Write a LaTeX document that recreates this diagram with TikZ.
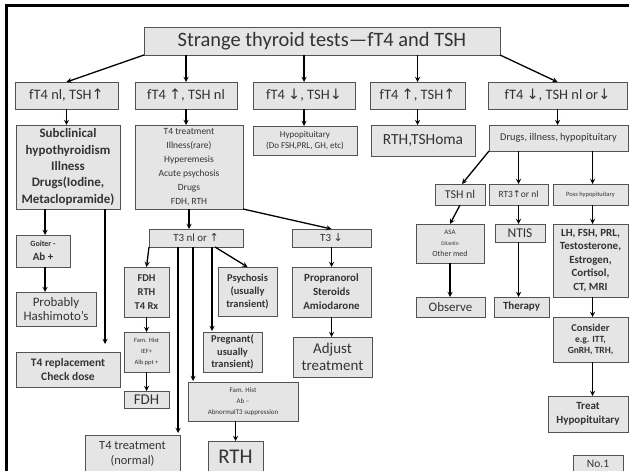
\documentclass[tikz,border=0pt]{standalone}
\usepackage{fontspec}
\setmainfont{Carlito}
\newfontfamily\symfont{DejaVu Sans}
\usetikzlibrary{arrows, shadows}
\newcommand{\arrUp}{{\symfont\char"2191}}
\newcommand{\arrDn}{{\symfont\char"2193}}
\newcommand{\fs}[2]{\fontsize{#1}{#2}\selectfont}
\tikzstyle{box} = [rectangle, draw=gray!65!black, fill=gray!20, text=black!80, align=center, inner sep=1bp, outer sep=0pt, drop shadow={shadow xshift=1.2bp, shadow yshift=-1.2bp, opacity=0.35}]
\tikzstyle{arrow} = [line width=1.3bp,->,>=stealth]

\begin{document}
\begin{tikzpicture}[x=1bp, y=-1bp]
    \useasboundingbox (0,0) rectangle (629,471);
    \clip (0,0) rectangle (629,471);
    \draw[line width=3bp] (6,475) -- (6,6) -- (632,6);

    % top row
    \node (title) [box, minimum width=356bp, minimum height=28bp, font=\fs{20.5}{24}] at (322,41) {Strange thyroid tests—fT4 and TSH};
    \node (nlhigh) [box, minimum width=103bp, minimum height=27bp, font=\fs{14.5}{17}] at (66.5,95.5) {fT4 nl, TSH\arrUp};
    \node (highnl) [box, minimum width=102bp, minimum height=27bp, font=\fs{14.5}{17}] at (186,95.5) {fT4 \arrUp, TSH nl};
    \node (lowlow) [box, minimum width=102bp, minimum height=27bp, font=\fs{14.5}{17}] at (304,95.5) {fT4 \arrDn, TSH\arrDn};
    \node (highhigh) [box, minimum width=95bp, minimum height=27bp, font=\fs{14.5}{17}] at (417.5,95.5) {fT4 \arrUp, TSH\arrUp};
    \node (lowany) [box, minimum width=139bp, minimum height=27bp, font=\fs{14.5}{17}] at (557.5,95.5) {fT4 \arrDn, TSH nl or\arrDn};

    % second row
    \node (subclin) [box, minimum width=104bp, minimum height=84bp, font=\fs{13}{16.5}\bfseries] at (68,167) {Subclinical\\hypothyroidism\\Illness\\Drugs(Iodine,\\Metaclopramide)};
    \node (causes) [box, minimum width=108bp, minimum height=84bp, font=\fs{9.5}{14}] at (189,167) {T4 treatment\\Illness(rare)\\Hyperemesis\\Acute psychosis\\Drugs\\FDH, RTH};
    \node (hypopit) [box, minimum width=104bp, minimum height=29bp, font=\fs{9}{11}] at (305,140.5) {Hypopituitary\\(Do FSH,PRL, GH, etc)};
    \node (rthoma) [box, minimum width=104bp, minimum height=31bp, font=\fs{15.5}{18}] at (423,140.5) {RTH,TSHoma};
    \node (ntisgrp) [box, minimum width=139bp, minimum height=26bp, font=\fs{10.4}{12}] at (558.5,138) {Drugs, illness, hypopituitary};

    % left branch
    \node (goiter) [box, minimum width=54bp, minimum height=32bp, font=\fs{11}{14}\bfseries] at (43,251) {{\fs{8}{11}Goiter -}\\Ab +};
    \node (hashi) [box, minimum width=80bp, minimum height=34bp, font=\fs{13}{14.5}] at (56,309) {Probably\\Hashimoto's};
    \node (replace) [box, minimum width=104bp, minimum height=35bp, font=\fs{11.5}{14}\bfseries] at (68,369.5) {T4 replacement\\Check dose};

    % T3 branch
    \node (tthreenl) [box, minimum width=94bp, minimum height=18bp, font=\fs{11}{13}] at (196,238) {T3 nl or \arrUp};
    \node (tthreedn) [box, minimum width=79bp, minimum height=18bp, font=\fs{11}{13}] at (331.5,238) {T3 \arrDn};
    \node (propra) [box, minimum width=79bp, minimum height=50bp, font=\fs{11}{14}\bfseries] at (331.5,292) {Propranorol\\Steroids\\Amiodarone};
    \node (adjust) [box, minimum width=79bp, minimum height=40bp, font=\fs{15}{17}] at (332.5,357) {Adjust\\treatment};
    \node (fdhrx) [box, minimum width=45bp, minimum height=50bp, font=\fs{10.5}{14}\bfseries] at (146.5,292) {FDH\\RTH\\T4 Rx};
    \node (famief) [box, minimum width=45bp, minimum height=40bp, font=\fs{6.5}{11}] at (146.5,352) {Fam. Hist\\IEF+\\Alb ppt +};
    \node (fdh) [box, minimum width=45bp, minimum height=17bp, font=\fs{15}{17}] at (146.5,399.5) {FDH};
    \node (psych) [box, minimum width=59bp, minimum height=49bp, font=\fs{10.5}{13}\bfseries] at (247.5,291.5) {Psychosis\\(usually\\transient)};
    \node (preg) [box, minimum width=59bp, minimum height=40bp, font=\fs{10.5}{12.5}\bfseries] at (232.5,352) {Pregnant(\\usually\\transient)};
    \node (famab) [box, minimum width=110bp, minimum height=39bp, font=\fs{7}{11}] at (243,401.5) {Fam. Hist\\Ab --\\AbnormalT3 suppression};
    \node (rth) [box, minimum width=55bp, minimum height=31bp, font=\fs{21}{23}] at (235.5,456.5) {RTH};
    \node (normal) [box, minimum width=95bp, minimum height=37bp, font=\fs{12.5}{15}] at (132.5,453.5) {T4 treatment\\(normal)};

    % right branch
    \node (tshnl) [box, minimum width=50bp, minimum height=21bp, font=\fs{12}{14}] at (460,194.5) {TSH nl};
    \node (rtthree) [box, minimum width=59bp, minimum height=21bp, font=\fs{9.5}{12}] at (518.5,194.5) {RT3\arrUp or nl};
    \node (posshypo) [box, minimum width=75bp, minimum height=21bp, font=\fs{6.5}{9}] at (590.5,194.5) {Poss hypopituitary};
    \node (asa) [box, minimum width=68bp, minimum height=39bp, font=\fs{7}{11}] at (450,243.5) {ASA\\{\fs{5.5}{10}Dilantin}\\{\fs{8}{11}Other med}};
    \node (ntis) [box, minimum width=50bp, minimum height=18bp, font=\fs{13.5}{15}] at (520,233) {NTIS};
    \node (hormones) [box, minimum width=75bp, minimum height=73bp, font=\fs{11}{13.5}\bfseries] at (590.5,260.5) {LH, FSH, PRL,\\Testosterone,\\Estrogen,\\Cortisol,\\CT, MRI};
    \node (observe) [box, minimum width=69bp, minimum height=20bp, font=\fs{13}{15}] at (450.5,307) {Observe};
    \node (therapy) [box, minimum width=55bp, minimum height=20bp, font=\fs{11}{13}\bfseries] at (521.5,307) {Therapy};
    \node (consider) [box, minimum width=75bp, minimum height=45bp, font=\fs{9.5}{11.5}\bfseries] at (590.5,339.5) {{\fs{10.5}{13}Consider}\\e.g. ITT,\\GnRH, TRH,};
    \node (treathypo) [box, minimum width=80bp, minimum height=36bp, font=\fs{11}{14}\bfseries] at (588,414) {Treat\\Hypopituitary};
    \node (pagenum) [box, minimum width=50bp, minimum height=17bp, font=\fs{11.5}{13}] at (598,463.5) {No.1};

    % connectors
    \draw[arrow] (title.south west) -- (nlhigh.north);
    \draw[arrow] (highnl.north |- title.south) -- (highnl.north);
    \draw[arrow] (lowlow.north |- title.south) -- (lowlow.north);
    \draw[arrow] (highhigh.north |- title.south) -- (highhigh.north);
    \draw[arrow] (title.south east) -- (lowany.north);
    \draw[arrow] (nlhigh.south) -- (nlhigh.south |- subclin.north);
    \draw[arrow] (highnl.south) -- (highnl.south |- causes.north);
    \draw[arrow] (lowlow.south) -- (lowlow.south |- hypopit.north);
    \draw[arrow] (highhigh.south) -- (highhigh.south |- rthoma.north);
    \draw[arrow] (lowany.south) -- (lowany.south |- ntisgrp.north);

    \draw[arrow] ([xshift=2bp]goiter.north |- subclin.south) -- ([xshift=2bp]goiter.north);
    \draw[arrow] ([xshift=2bp]goiter.south) -- ([xshift=2bp]goiter.south |- hashi.north);
    \draw[arrow, shorten >=8bp] ([xshift=37bp]subclin.south) -- ([xshift=37bp]subclin.south |- replace.north);

    \draw[arrow] (causes.south) -- (causes.south |- tthreenl.north);
    \draw[arrow] (causes.south east) -- (tthreedn.north);
    \draw[arrow] (tthreedn.south) -- (tthreedn.south |- propra.north);
    \draw[arrow] (propra.south) -- (propra.south |- adjust.north);
    \draw[arrow] (tthreenl.south west) -- (fdhrx.north);
    \draw[arrow] (fdhrx.south) -- (famief.north);
    \draw[arrow] (famief.south) -- (fdh.north);
    \draw[arrow] ([xshift=-2bp]normal.north east |- tthreenl.south) -- ([xshift=-2bp, yshift=2bp]normal.north east);
    \draw[arrow] ([xshift=5bp]famab.north west |- tthreenl.south) -- ([xshift=5bp, yshift=1bp]famab.north west);
    \draw[arrow] ([xshift=9bp]preg.north west |- tthreenl.south) -- ([xshift=9bp, yshift=1bp]preg.north west);
    \draw[arrow] ([xshift=19bp]tthreenl.south) -- (psych.north);
    \draw[arrow] (rth.north |- famab.south) -- (rth.north);

    \draw[arrow] (ntisgrp.south west) -- ([xshift=2bp]tshnl.north);
    \draw[arrow] (rtthree.north |- ntisgrp.south) -- (rtthree.north);
    \draw[arrow] ([xshift=2bp]posshypo.north |- ntisgrp.south) -- ([xshift=2bp]posshypo.north);
    \draw[arrow] (tshnl.south) -- (asa.north);
    \draw[arrow] (rtthree.south) -- (rtthree.south |- ntis.north);
    \draw[arrow] ([xshift=2bp]posshypo.south) -- ([xshift=2bp]posshypo.south |- hormones.north);
    \draw[arrow] (asa.south) -- (asa.south |- observe.north);
    \draw[arrow] (rtthree.south |- ntis.south) -- (rtthree.south |- therapy.north);
    \draw[arrow] ([xshift=2bp]hormones.south) -- ([xshift=2bp]hormones.south |- consider.north);
    \draw[arrow] ([xshift=2bp]consider.south) -- ([xshift=2bp]consider.south |- treathypo.north);
\end{tikzpicture}
\end{document}
